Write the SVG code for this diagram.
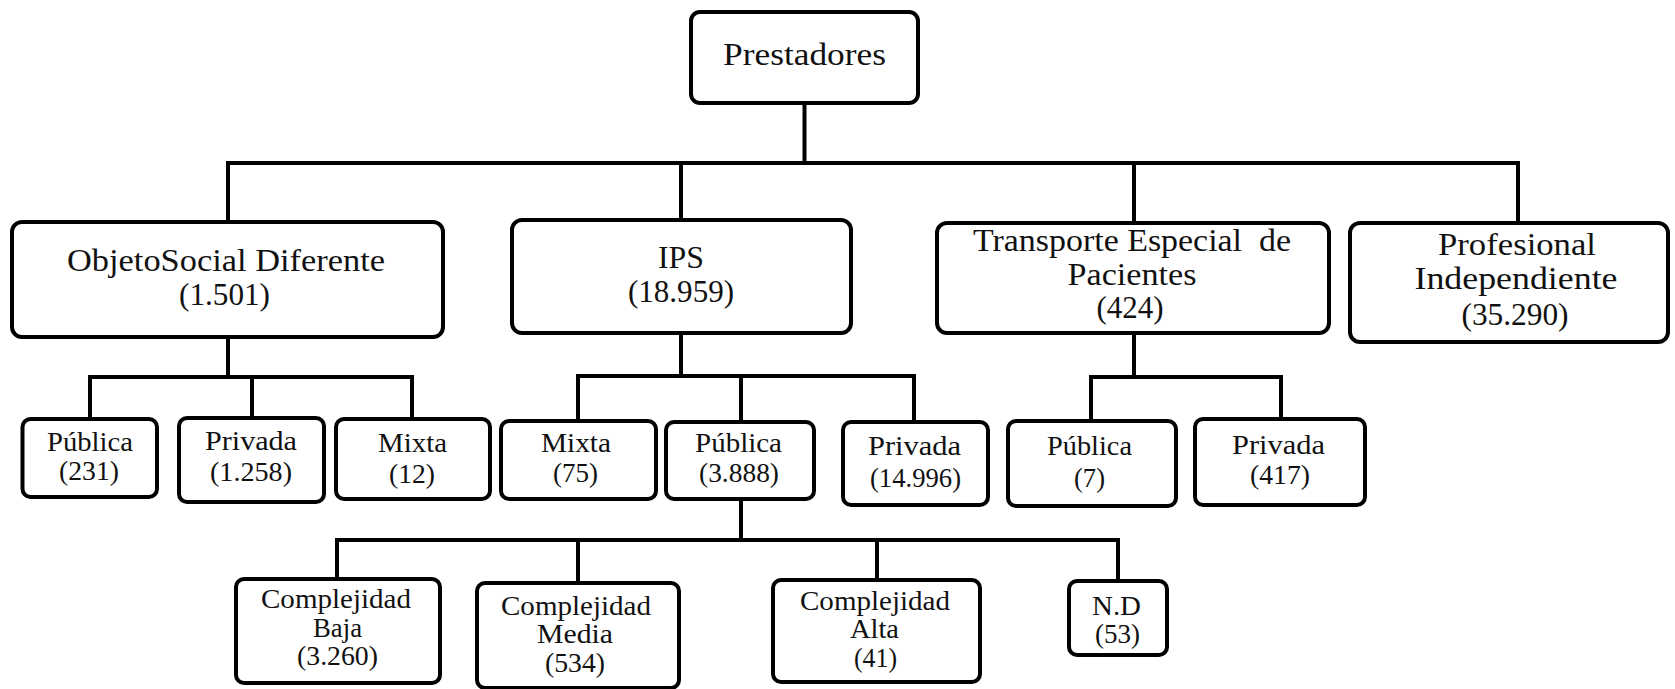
<svg xmlns="http://www.w3.org/2000/svg" width="1675" height="689" viewBox="0 0 1675 689">
<style>
.box{fill:#fff;stroke:#000;stroke-width:4}
.conn{fill:none;stroke:#000;stroke-width:4;stroke-linecap:square;stroke-linejoin:miter}
text{font-family:"Liberation Serif","Times New Roman",serif;fill:#111;text-anchor:middle}
.l1{font-size:31px}
.l2{font-size:27px}
</style>
<rect width="1675" height="689" fill="#fff"/>
<g id="connectors">
<path class="conn" d="M804.5,103 V163 M228,163 H1518 M228,163 V222 M681,163 V220 M1134,163 V223 M1518,163 V223"/>
<path class="conn" d="M228,337 V377 M90,377 H412 M90,377 V419 M252,377 V418 M412,377 V419"/>
<path class="conn" d="M681,333 V376 M578,376 H914 M578,376 V421 M741,376 V422 M914,376 V422"/>
<path class="conn" d="M1134,333 V377 M1091,377 H1281 M1091,377 V421 M1281,377 V419"/>
<path class="conn" d="M741,499 V540 M337,540 H1118 M337,540 V579 M578,540 V583 M877,540 V580 M1118,540 V581"/>
</g>
<g id="prestadores">
<rect class="box" x="691" y="12" width="227" height="91" rx="9"/>
<text class="l1" x="804.5" y="65" textLength="163" lengthAdjust="spacingAndGlyphs">Prestadores</text>
</g>
<g id="objeto">
<rect class="box" x="12" y="222" width="431" height="115" rx="10"/>
<text class="l1" x="226" y="271" textLength="318" lengthAdjust="spacingAndGlyphs">ObjetoSocial Diferente</text>
<text class="l1" x="224.5" y="305" textLength="91" lengthAdjust="spacingAndGlyphs">(1.501)</text>
</g>
<g id="ips">
<rect class="box" x="512" y="220" width="339" height="113" rx="10"/>
<text class="l1" x="681" y="268" textLength="46" lengthAdjust="spacingAndGlyphs">IPS</text>
<text class="l1" x="681" y="302" textLength="106" lengthAdjust="spacingAndGlyphs">(18.959)</text>
</g>
<g id="transporte">
<rect class="box" x="937" y="223" width="392" height="110" rx="10"/>
<text class="l1" x="1132" y="251" textLength="318" lengthAdjust="spacingAndGlyphs">Transporte Especial&#160; de</text>
<text class="l1" x="1132" y="285" textLength="129" lengthAdjust="spacingAndGlyphs">Pacientes</text>
<text class="l1" x="1130" y="318" textLength="67" lengthAdjust="spacingAndGlyphs">(424)</text>
</g>
<g id="profesional">
<rect class="box" x="1350" y="223" width="318" height="119" rx="10"/>
<text class="l1" x="1517" y="255" textLength="158" lengthAdjust="spacingAndGlyphs">Profesional</text>
<text class="l1" x="1516" y="289" textLength="203" lengthAdjust="spacingAndGlyphs">Independiente</text>
<text class="l1" x="1515" y="325" textLength="107" lengthAdjust="spacingAndGlyphs">(35.290)</text>
</g>
<g id="osd-publica">
<rect class="box" x="22.5" y="419" width="134.5" height="78" rx="8"/>
<text class="l2" x="90" y="451" textLength="86" lengthAdjust="spacingAndGlyphs">Pública</text>
<text class="l2" x="89" y="480" textLength="60" lengthAdjust="spacingAndGlyphs">(231)</text>
</g>
<g id="osd-privada">
<rect class="box" x="179" y="418" width="145" height="84" rx="8"/>
<text class="l2" x="251" y="450" textLength="92" lengthAdjust="spacingAndGlyphs">Privada</text>
<text class="l2" x="251" y="481" textLength="82" lengthAdjust="spacingAndGlyphs">(1.258)</text>
</g>
<g id="osd-mixta">
<rect class="box" x="336" y="419" width="154" height="80" rx="8"/>
<text class="l2" x="412.5" y="452" textLength="69" lengthAdjust="spacingAndGlyphs">Mixta</text>
<text class="l2" x="412" y="483" textLength="46" lengthAdjust="spacingAndGlyphs">(12)</text>
</g>
<g id="ips-mixta">
<rect class="box" x="501" y="421" width="155" height="78" rx="8"/>
<text class="l2" x="576" y="452" textLength="70" lengthAdjust="spacingAndGlyphs">Mixta</text>
<text class="l2" x="575.5" y="482" textLength="45" lengthAdjust="spacingAndGlyphs">(75)</text>
</g>
<g id="ips-publica">
<rect class="box" x="666" y="422" width="148" height="77" rx="8"/>
<text class="l2" x="738.5" y="452" textLength="87" lengthAdjust="spacingAndGlyphs">Pública</text>
<text class="l2" x="739" y="482" textLength="80" lengthAdjust="spacingAndGlyphs">(3.888)</text>
</g>
<g id="ips-privada">
<rect class="box" x="843" y="422" width="145" height="83" rx="8"/>
<text class="l2" x="914.5" y="455" textLength="93" lengthAdjust="spacingAndGlyphs">Privada</text>
<text class="l2" x="915.5" y="487" textLength="91" lengthAdjust="spacingAndGlyphs">(14.996)</text>
</g>
<g id="tep-publica">
<rect class="box" x="1008" y="421" width="168" height="85" rx="8"/>
<text class="l2" x="1089.5" y="455" textLength="85" lengthAdjust="spacingAndGlyphs">Pública</text>
<text class="l2" x="1089.5" y="487" textLength="31" lengthAdjust="spacingAndGlyphs">(7)</text>
</g>
<g id="tep-privada">
<rect class="box" x="1195" y="419" width="170" height="86" rx="8"/>
<text class="l2" x="1278.5" y="454" textLength="93" lengthAdjust="spacingAndGlyphs">Privada</text>
<text class="l2" x="1280" y="484" textLength="60" lengthAdjust="spacingAndGlyphs">(417)</text>
</g>
<g id="comp-baja">
<rect class="box" x="236" y="579" width="204" height="104" rx="8"/>
<text class="l2" x="336" y="608" textLength="150" lengthAdjust="spacingAndGlyphs">Complejidad</text>
<text class="l2" x="337.5" y="637" textLength="49" lengthAdjust="spacingAndGlyphs">Baja</text>
<text class="l2" x="337.5" y="665" textLength="81" lengthAdjust="spacingAndGlyphs">(3.260)</text>
</g>
<g id="comp-media">
<rect class="box" x="477" y="583" width="202" height="105" rx="8"/>
<text class="l2" x="576" y="615" textLength="150" lengthAdjust="spacingAndGlyphs">Complejidad</text>
<text class="l2" x="575" y="643" textLength="76" lengthAdjust="spacingAndGlyphs">Media</text>
<text class="l2" x="575" y="672" textLength="60" lengthAdjust="spacingAndGlyphs">(534)</text>
</g>
<g id="comp-alta">
<rect class="box" x="773" y="580" width="207" height="102" rx="8"/>
<text class="l2" x="875" y="610" textLength="150" lengthAdjust="spacingAndGlyphs">Complejidad</text>
<text class="l2" x="874.5" y="638" textLength="49" lengthAdjust="spacingAndGlyphs">Alta</text>
<text class="l2" x="875.5" y="667" textLength="43" lengthAdjust="spacingAndGlyphs">(41)</text>
</g>
<g id="nd">
<rect class="box" x="1069" y="581" width="98" height="74" rx="8"/>
<text class="l2" x="1116.5" y="615" textLength="49" lengthAdjust="spacingAndGlyphs">N.D</text>
<text class="l2" x="1117.5" y="643" textLength="45" lengthAdjust="spacingAndGlyphs">(53)</text>
</g>
</svg>
